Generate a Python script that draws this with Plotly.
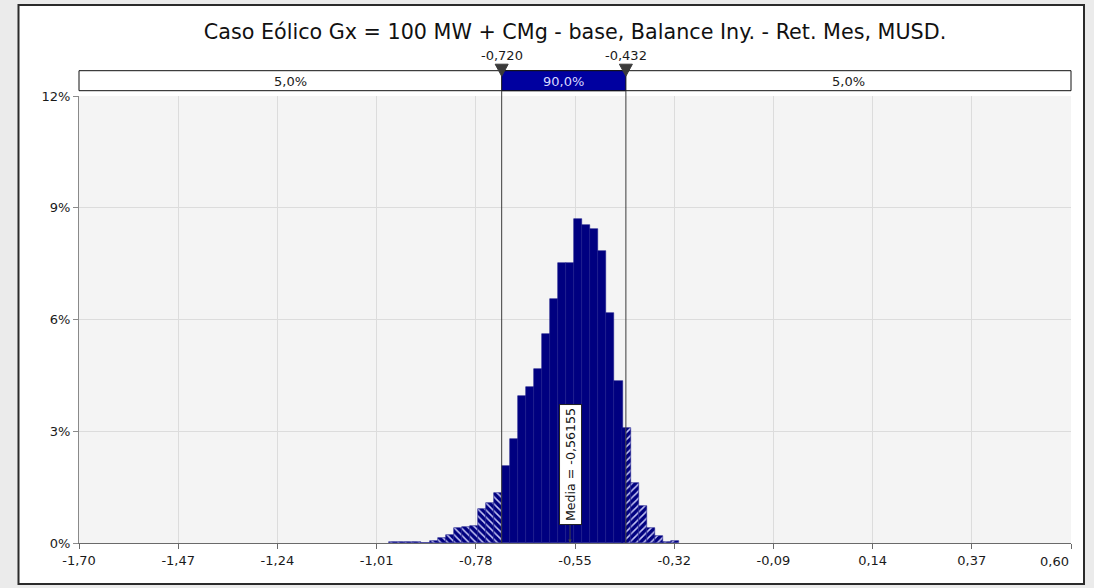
import plotly.graph_objects as go

# ---------------- data ----------------
title_text = "Caso Eólico Gx = 100 MW + CMg - base, Balance Iny. - Ret. Mes, MUSD."

bin_width = 0.01864
bin_centers = [
    -0.9712, -0.9525, -0.9339, -0.9153, -0.8966, -0.8780, -0.8593, -0.8407,
    -0.8221, -0.8034, -0.7848, -0.7661, -0.7475, -0.7289, -0.7102, -0.6916,
    -0.6729, -0.6543, -0.6356, -0.6170, -0.5984, -0.5797, -0.5611, -0.5424,
    -0.5238, -0.5052, -0.4865, -0.4679, -0.4492, -0.4306, -0.4120, -0.3933,
    -0.3747, -0.3560, -0.3374, -0.3188,
]
bin_pct = [
    0.03, 0.03, 0.03, 0.03, 0.00, 0.05, 0.14, 0.21,
    0.39, 0.43, 0.45, 0.92, 1.08, 1.33, 2.07, 2.79,
    3.95, 4.20, 4.66, 5.61, 6.54, 7.51, 7.51, 8.70,
    8.54, 8.42, 7.85, 6.17, 4.34, 3.08, 1.62, 0.99,
    0.39, 0.19, 0.03, 0.05,
]

p_lo = -0.720
p_hi = -0.432
band_pcts = [5.0, 90.0, 5.0]
mean_value = -0.56155

x_tick_vals = [-1.70, -1.47, -1.24, -1.01, -0.78, -0.55, -0.32, -0.09, 0.14, 0.37, 0.60]
x_tick_text = ["-1,70", "-1,47", "-1,24", "-1,01", "-0,78", "-0,55", "-0,32", "-0,09", "0,14", "0,37", "0,60"]
y_tick_vals = [0, 3, 6, 9, 12]
y_tick_text = ["0%", "3%", "6%", "9%", "12%"]

x_range = [-1.70, 0.60]
y_range = [0, 12]

# ---------------- layout geometry (pixels) ----------------
W, H = 1094, 588
PL, PR, PT, PB = 79, 1071, 96, 543
pw, ph = PR - PL, PB - PT


def px_x(px):
    return (px - PL) / pw


def px_y(py):
    return (PB - py) / ph


FONT = "DejaVu Sans"
NAVY = "#000080"
BAND_BLUE = "#0000A0"
TICK_FONT = dict(family=FONT, size=13, color="#1a1a1a")


def fmt(v, d):
    return f"{v:.{d}f}".replace(".", ",")


# ---------------- split bins by percentile region ----------------
groups = {"left": ([], [], []), "mid": ([], [], []), "right": ([], [], [])}
for c, h in zip(bin_centers, bin_pct):
    lo, hi = c - bin_width / 2, c + bin_width / 2
    cuts = [lo]
    for p in (p_lo, p_hi):
        if lo + 0.002 < p < hi - 0.002:
            cuts.append(p)
    cuts.append(hi)
    for a, b in zip(cuts[:-1], cuts[1:]):
        m = (a + b) / 2
        key = "left" if m < p_lo else ("right" if m > p_hi else "mid")
        groups[key][0].append(m)
        groups[key][1].append(h)
        groups[key][2].append(b - a)

fig = go.Figure()
for key, shape in (("left", "\\"), ("mid", ""), ("right", "/")):
    xs, ys, ws = groups[key]
    marker = dict(color=NAVY, line=dict(color="#1a1a8c", width=0.6))
    if shape:
        marker["pattern"] = dict(shape=shape, bgcolor=NAVY, fgcolor="#c4c4f4",
                                 size=5, solidity=0.3, fillmode="replace")
    fig.add_trace(go.Bar(x=xs, y=ys, width=ws, marker=marker,
                         hoverinfo="skip", showlegend=False))

# ---------------- shapes ----------------
band_top = px_y(70.7)
band_bot = px_y(90.7)
shapes = [
    # outer white frame
    dict(type="rect", xref="paper", yref="paper",
         x0=px_x(18.5), x1=px_x(1084), y0=px_y(584), y1=px_y(5),
         fillcolor="white", line=dict(color="#2b2b2b", width=2), layer="below"),
    # plot area background
    dict(type="rect", xref="paper", yref="paper", x0=0, x1=1, y0=0, y1=1,
         fillcolor="#F4F4F4", line=dict(width=0), layer="below"),
    # band
    dict(type="rect", xref="paper", yref="paper", x0=0, x1=1, y0=band_bot, y1=band_top,
         fillcolor="white", line=dict(color="#111111", width=1)),
    dict(type="rect", xref="x", yref="paper", x0=p_lo, x1=p_hi, y0=band_bot, y1=band_top,
         fillcolor=BAND_BLUE, line=dict(color="#111111", width=1)),
]
for p in (p_lo, p_hi):
    shapes.append(dict(type="line", xref="x", yref="paper", x0=p, x1=p, y0=0, y1=band_bot,
                       line=dict(color="#3c3c3c", width=1), layer="above"))
    shapes.append(dict(type="path", xref="x", yref="paper",
                       xsizemode="pixel", ysizemode="pixel", xanchor=p, yanchor=band_top,
                       path="M -6.5 6.5 L 6.5 6.5 L 0 -5.5 Z",
                       fillcolor="#3a3a3a", line=dict(color="#3a3a3a", width=1)))

# ---------------- annotations ----------------
annotations = []
for p in (p_lo, p_hi):
    annotations.append(dict(x=p, y=band_top, xref="x", yref="paper", yanchor="bottom",
                            yshift=6, showarrow=False, text=fmt(p, 3),
                            font=dict(family=FONT, size=13, color="#1a1a1a")))
band_mid_y = px_y(82)
segments = [(x_range[0], p_lo), (p_lo, p_hi), (p_hi, x_range[1])]
for (a, b), v, col in zip(segments, band_pcts, ("#1a1a1a", "#d8d8ff", "#1a1a1a")):
    annotations.append(dict(x=(a + b) / 2, y=band_mid_y, xref="x", yref="paper",
                            xanchor="center", yanchor="middle",
                            showarrow=False, text=fmt(v, 1) + "%",
                            font=dict(family=FONT, size=13, color=col)))
annotations.append(dict(x=mean_value, y=0, xref="x", yref="y",
                        text="Media = " + fmt(mean_value, 5), textangle=-90,
                        showarrow=True, ax=0, ay=-78, arrowhead=2, arrowsize=0.7,
                        arrowwidth=1, arrowcolor="#444444",
                        bgcolor="white", bordercolor="#222222", borderwidth=1, borderpad=3,
                        font=dict(family=FONT, size=12.6, color="#111111")))
# last x tick label is kept inside the plot edge (right-aligned at the tick)
annotations.append(dict(x=x_tick_vals[-1], y=px_y(561.5), xref="x", yref="paper",
                        xanchor="right", yanchor="middle", showarrow=False,
                        text=x_tick_text[-1], font=TICK_FONT))
shown_tick_text = x_tick_text[:-1] + [""]

fig.update_layout(
    width=W, height=H, autosize=False,
    margin=dict(l=PL, r=W - PR, t=PT, b=H - PB, pad=0, autoexpand=False),
    paper_bgcolor="#EBEBEB", plot_bgcolor="rgba(0,0,0,0)",
    barmode="overlay", bargap=0,
    title=dict(text=title_text, x=0.5, xref="paper", xanchor="center",
               y=1 - 32 / H, yref="container", yanchor="middle",
               font=dict(family=FONT, size=20.7, color="#111111")),
    shapes=shapes, annotations=annotations, showlegend=False,
    xaxis=dict(range=x_range, tickvals=x_tick_vals, ticktext=shown_tick_text,
               automargin=False,
               showgrid=True, gridcolor="#DCDCDC", gridwidth=1, zeroline=False,
               showline=True, linecolor="#6a6a6a", linewidth=1,
               ticks="outside", ticklen=5, tickcolor="#6a6a6a",
               tickfont=TICK_FONT),
    yaxis=dict(range=y_range, tickvals=y_tick_vals, ticktext=y_tick_text,
               automargin=False,
               showgrid=True, gridcolor="#DCDCDC", gridwidth=1, zeroline=False,
               showline=True, linecolor="#8a8a8a", linewidth=1,
               ticks="outside", ticklen=5, tickcolor="#8a8a8a",
               tickfont=TICK_FONT),
)

fig.write_html(
    "out.html",
    config={"displayModeBar": False},
    post_script="document.body.style.margin='0px';document.body.style.overflow='hidden';",
)
